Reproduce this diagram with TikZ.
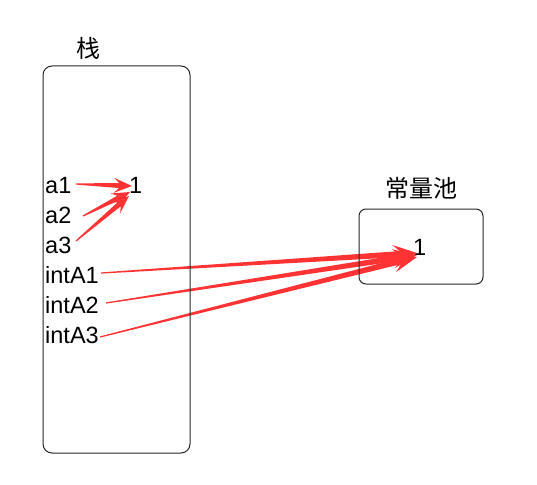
\documentclass[tikz,border=0pt]{standalone}
\usepackage{fontspec}
\setmainfont{Liberation Sans}
\newfontfamily\cjk{Noto Sans CJK SC}
\usetikzlibrary{calc}
\definecolor{arrred}{HTML}{FF3333}
\tikzset{
  box/.style={draw=black!85, line width=1pt, rounded corners=9pt},
  lbl/.style={inner sep=0pt, anchor=base west, font=\fontsize{23.5}{27}\selectfont},
  cjklbl/.style={inner sep=0pt, font=\fontsize{24}{28}\selectfont\cjk},
  arr/.style={fill=arrred}
}
% wedge arrow: #1 start, #2 tip, #3 head length, #4 head half width, #5 shaft half width
\newcommand\wedgearrow[5]{%
  \fill[arr]
    ($(#1)!0.6pt!90:(#2)$) --
    ($($(#2)!#3*0.72!(#1)$)!#5!-90:(#1)$) --
    ($($(#2)!#3!(#1)$)!#4!-90:(#1)$) --
    (#2) --
    ($($(#2)!#3!(#1)$)!#4!90:(#1)$) --
    ($($(#2)!#3*0.72!(#1)$)!#5!90:(#1)$) --
    ($(#1)!0.6pt!-90:(#2)$) -- cycle;}
\begin{document}
\begin{tikzpicture}[x=1pt,y=-1pt]
\useasboundingbox (0,0) rectangle (537,484);
% labels
\node[lbl] (a1) at (45,193) {a1};
\node[lbl] (a2) at (45,223) {a2};
\node[lbl] (a3) at (45,253) {a3};
\node[lbl] (i1) at (45,283) {intA1};
\node[lbl] (i2) at (45,313) {intA2};
\node[lbl] (i3) at (45,343) {intA3};
\node[lbl] (one) at (129,193) {1};
\node[lbl] (onep) at (413,255) {1};
\node[cjklbl] (stack) at (88,48) {栈};
\node[cjklbl] (pool) at (421,188) {常量池};
% arrow ends
\coordinate (s1) at (76,184);
\coordinate (s2) at (83,216);
\coordinate (s3) at (76,241);
\coordinate (t1) at (132,186);
\coordinate (t2) at (130,192);
\coordinate (t3) at (129,196);
\coordinate (s4) at (101,273);
\coordinate (s5) at (106,303);
\coordinate (s6) at (100,337);
\coordinate (t4) at (417,253);
\coordinate (t5) at (417,255);
\coordinate (t6) at (417,257);
\wedgearrow{s1}{t1}{18pt}{7.5pt}{2.5pt}
\wedgearrow{s2}{t2}{18pt}{7.5pt}{2.5pt}
\wedgearrow{s3}{t3}{18pt}{7.5pt}{2.5pt}
\wedgearrow{s4}{t4}{24pt}{9.5pt}{3pt}
\wedgearrow{s5}{t5}{24pt}{9.5pt}{3pt}
\wedgearrow{s6}{t6}{24pt}{9.5pt}{3pt}
% boxes
\draw[box] (43,66) rectangle (190,453);
\draw[box, rounded corners=7pt] (359,209) rectangle (483,284);
\end{tikzpicture}
\end{document}
